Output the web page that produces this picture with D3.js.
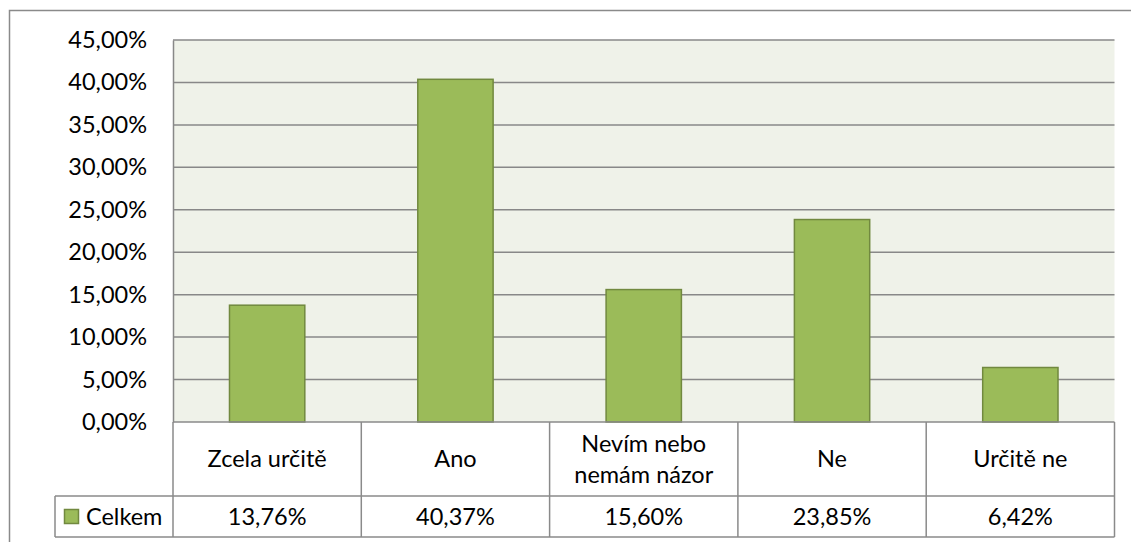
<!DOCTYPE html>
<html><head><meta charset="utf-8">
<script src="https://cdn.jsdelivr.net/npm/d3@7"></script>
<style>body{margin:0;background:#fff}svg{display:block}text{font-family:Lato,"Open Sans",sans-serif;fill:#000}</style>
</head><body>
<svg id="c" width="1131" height="542"></svg>
<script>
const categories = ["Zcela určitě", "Ano", "Nevím nebo|nemám názor", "Ne", "Určitě ne"];
const values = [13.76, 40.37, 15.60, 23.85, 6.42];
const valueLabels = ["13,76%", "40,37%", "15,60%", "23,85%", "6,42%"];
const yTicks = [0, 5, 10, 15, 20, 25, 30, 35, 40, 45];
const seriesName = "Celkem";

const svg = d3.select("#c");
const L = 173, R = 1114.5, T = 40, B = 422;
const rowH1 = 496, rowH2 = 537, legL = 55;
const fs = 23.5;

// outer frame
svg.append("path").attr("d", `M9.5,542 V10.5 H1131`).attr("fill","none").attr("stroke","#8a8a8a").attr("stroke-width",1.5);

const x = d3.scaleBand().domain(categories).range([L, R]).paddingInner(0.6).paddingOuter(0.3);
const y = d3.scaleLinear().domain([0, 45]).range([B, T]);

svg.append("rect").attr("x", L).attr("y", T).attr("width", R - L).attr("height", B - T).attr("fill", "#eff2e9");

// gridlines
svg.append("g").selectAll("line").data(yTicks.filter(d => d > 0)).join("line")
  .attr("x1", L).attr("x2", R).attr("y1", d => y(d)).attr("y2", d => y(d))
  .attr("stroke", "#888").attr("stroke-width", 1.5);

// bars
svg.append("g").selectAll("rect").data(values).join("rect")
  .attr("x", (d, i) => x(categories[i])).attr("width", x.bandwidth())
  .attr("y", d => y(d)).attr("height", d => B - y(d))
  .attr("fill", "#9bbb59").attr("stroke", "#71893f").attr("stroke-width", 1.5);

// y axis
const yAxis = d3.axisLeft(y).tickValues(yTicks).tickSize(0).tickPadding(26)
  .tickFormat(d => d3.format(".2f")(d).replace(".", ",") + "%");
const ga = svg.append("g").attr("transform", `translate(${L},0)`).call(yAxis);
ga.select(".domain").attr("stroke", "#888").attr("stroke-width", 1.5);
ga.selectAll("text").attr("font-size", fs).attr("font-family", "Lato").attr("fill", "#000");

// table
const colEdges = categories.map(c => x(c) - x.step() * x.paddingInner() / 2);
colEdges.push(R);
const tg = svg.append("g").attr("stroke", "#8a8a8a").attr("stroke-width", 1.5).attr("fill", "none");
tg.append("line").attr("x1", L).attr("x2", R).attr("y1", B).attr("y2", B);
tg.append("line").attr("x1", legL).attr("x2", R).attr("y1", rowH1).attr("y2", rowH1);
tg.append("line").attr("x1", legL).attr("x2", R).attr("y1", rowH2).attr("y2", rowH2);
tg.append("line").attr("x1", legL).attr("x2", legL).attr("y1", rowH1).attr("y2", rowH2);
tg.selectAll("line.v").data(colEdges).join("line").attr("class", "v")
  .attr("x1", d => d).attr("x2", d => d).attr("y1", B).attr("y2", rowH2);

// header labels
const hg = svg.append("g");
categories.forEach((c, i) => {
  const cx = x(c) + x.bandwidth() / 2;
  const lines = c.split("|");
  const mid = (B + rowH1) / 2;
  const lh = 31;
  lines.forEach((ln, j) => {
    hg.append("text").attr("x", cx).attr("y", mid + (j - (lines.length - 1) / 2) * lh)
      .attr("dy", "0.35em").attr("text-anchor", "middle").attr("font-size", fs).text(ln);
  });
  hg.append("text").attr("x", cx).attr("y", (rowH1 + rowH2) / 2).attr("dy", "0.35em")
    .attr("text-anchor", "middle").attr("font-size", fs).text(valueLabels[i]);
});

// legend
svg.append("rect").attr("x", 64.5).attr("y", 509.5).attr("width", 14).attr("height", 14)
  .attr("fill", "#9bbb59").attr("stroke", "#71893f").attr("stroke-width", 1.5);
svg.append("text").attr("x", 86).attr("y", (rowH1 + rowH2) / 2).attr("dy", "0.35em")
  .attr("font-size", fs).text(seriesName);
</script></body></html>
